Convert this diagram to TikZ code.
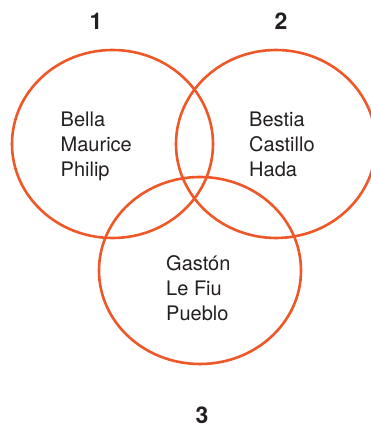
\documentclass[tikz,border=0pt]{standalone}
\usepackage{fontspec}
\setmainfont{TeX Gyre Heros}
\definecolor{vennorange}{RGB}{238,88,40}
\definecolor{inkgray}{RGB}{35,31,32}
\begin{document}
\begin{tikzpicture}[x=1pt,y=1pt,
  ring/.style={draw=vennorange,line width=2.6pt},
  word/.style={anchor=base west,inner sep=0pt,text=inkgray,
    font=\fontsize{20}{25}\selectfont},
  setnum/.style={anchor=base,inner sep=0pt,text=inkgray,
    font=\fontsize{23}{27}\selectfont\bfseries}]
\useasboundingbox (0,0) rectangle (370,428);

% the three sets
\draw[ring] (112.5,284) ellipse (100.5 and 94);
\draw[ring] (276,284) ellipse (100 and 94);
\draw[ring] (200,157.5) ellipse (101 and 93.5);

% set numbers
\node[setnum] (n1) at (96,398) {1};
\node[setnum] (n2) at (281,398) {2};
\node[setnum] (n3) at (202,4.5) {3};

% members
\foreach \w [count=\i] in {Bella,Maurice,Philip}
  \node[word] (a\i) at (60.5,301-25*\i+25) {\w};
\foreach \w [count=\i] in {Bestia,Castillo,Hada}
  \node[word] (b\i) at (249,301-25*\i+25) {\w};
\foreach \w [count=\i] in {Gastón,Le Fiu,Pueblo}
  \node[word] (c\i) at (166,157-25*\i+25) {\w};

\end{tikzpicture}
\end{document}
